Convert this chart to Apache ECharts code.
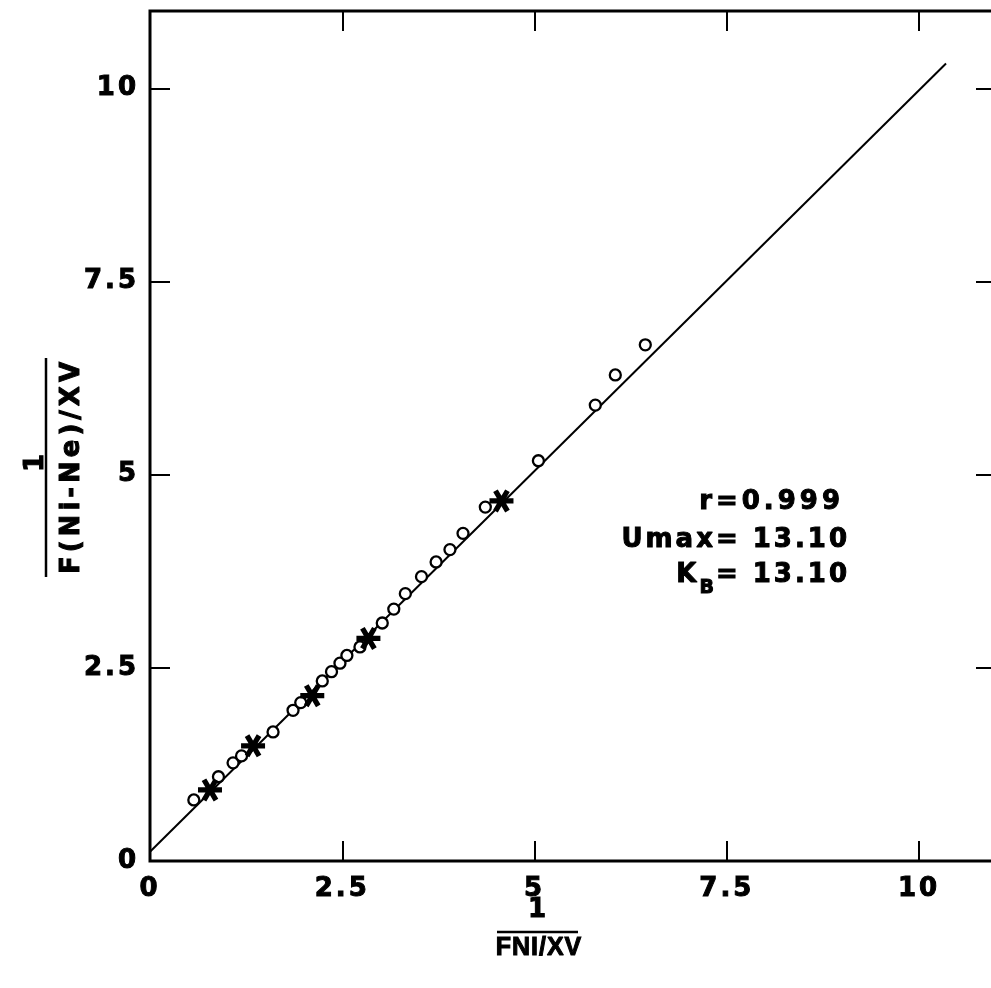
<!DOCTYPE html>
<html>
<head>
<meta charset="utf-8">
<script src="https://cdn.jsdelivr.net/npm/echarts@6/dist/echarts.min.js"></script>
<style>
  html, body { margin: 0; padding: 0; background: #fff; }
  #chart { width: 991px; height: 988px; }
</style>
</head>
<body>
<div id="chart"></div>
<script>
// Open-circle measurements: 1/(FNi/XV) against 1/(F(Ni-Ne)/XV)
const circleX = [0.57, 0.89, 1.08, 1.19, 1.60, 1.86, 1.96, 2.24, 2.36, 2.47, 2.56, 2.73, 3.02, 3.17, 3.32, 3.53, 3.72, 3.90, 4.07, 4.36, 5.05, 5.79, 6.05, 6.44];
const circleY = [0.79, 1.09, 1.27, 1.36, 1.67, 1.95, 2.05, 2.33, 2.45, 2.56, 2.66, 2.77, 3.08, 3.26, 3.46, 3.68, 3.87, 4.03, 4.24, 4.58, 5.18, 5.90, 6.29, 6.68];

// Asterisk measurements
const starX = [0.78, 1.34, 2.11, 2.84, 4.57];
const starY = [0.92, 1.49, 2.14, 2.88, 4.66];

// Fitted regression line end points
const fitX = [0, 10.35];
const fitY = [0.12, 10.32];

// Tick labels
const xTickLabels = ['0', '2.5', '5', '7.5', '10'];
const yTickLabels = ['0', '2.5', '5', '7.5', '10'];

// Fit statistics
const statR = 'r=0.999';
const statUmax = 'Umax= 13.10';
const statKB = '= 13.10';

const zip = (xs, ys) => xs.map((x, i) => [x, ys[i]]);

// Wrap every character in its own rich token so the text gets letter spacing
function spaced(text, style) {
  return text.split('').map(c => '{' + style + '|' + c + '}').join('');
}

function labelFor(v, labels) {
  const hit = labels.find(l => Math.abs(parseFloat(l) - v) < 1e-9);
  return hit === undefined ? '' : spaced(hit, 't');
}

// Heavy lettering: DejaVu Sans Bold with a thin outline of the same colour
const AXIS_BOLD = { fontFamily: 'DejaVu Sans', fontWeight: 'bold', color: '#000', textBorderColor: '#000', textBorderWidth: 1 };
const GFX_BOLD = { fontFamily: 'DejaVu Sans', fontWeight: 'bold', fill: '#000', stroke: '#000', lineWidth: 1 };
const tickRich = { t: Object.assign({}, AXIS_BOLD, { fontSize: 26, padding: [0, 3, 0, 0] }) };

// Six-armed asterisk marker
const STAR = 'path://M-1,0.22L1,0.22L1,-0.22L-1,-0.22Z' +
  'M-0.690,-0.756L0.310,0.976L0.690,0.756L-0.310,-0.976Z' +
  'M0.310,-0.976L-0.690,0.756L-0.310,0.976L0.690,-0.756Z';

const axisBase = {
  type: 'value', min: 0, max: 11, interval: 2.5,
  splitLine: { show: false },
  axisLine: { show: false, onZero: false },
  axisTick: { inside: true, length: 20, lineStyle: { color: '#000', width: 2 } }
};

const chart = echarts.init(document.getElementById('chart'), null, { renderer: 'canvas' });

const option = {
  animation: false,
  backgroundColor: '#fff',
  grid: {
    left: 150, top: 11, right: -5, bottom: 127,
    show: true, borderColor: '#000', borderWidth: 3,
    containLabel: false, outerBoundsMode: 'none'
  },
  xAxis: [
    Object.assign({}, axisBase, {
      position: 'bottom',
      axisLabel: { margin: 15, showMaxLabel: false, formatter: v => labelFor(v, xTickLabels), rich: tickRich }
    }),
    Object.assign({}, axisBase, { position: 'top', axisLabel: { show: false } })
  ],
  yAxis: [
    Object.assign({}, axisBase, {
      position: 'left',
      axisLabel: { margin: 11, showMaxLabel: false, formatter: v => labelFor(v, yTickLabels), rich: tickRich }
    }),
    Object.assign({}, axisBase, { position: 'right', axisLabel: { show: false } })
  ],
  series: [
    {
      type: 'line', data: zip(fitX, fitY), symbol: 'none', z: 2,
      lineStyle: { color: '#000', width: 2 }
    },
    {
      type: 'scatter', data: zip(circleX, circleY), symbol: 'circle', symbolSize: 11, z: 3,
      itemStyle: { color: '#fff', borderColor: '#000', borderWidth: 2.3, opacity: 1 }
    },
    {
      type: 'scatter', data: zip(starX, starY), symbol: STAR, symbolSize: [24, 23], z: 4,
      itemStyle: { color: '#000', opacity: 1 }
    }
  ],
  graphic: [
    // x-axis title as a fraction
    {
      type: 'text', x: 537, y: 910,
      style: Object.assign({}, GFX_BOLD, { text: '1', fontSize: 26, align: 'center', verticalAlign: 'middle' })
    },
    { type: 'line', shape: { x1: 497, y1: 932, x2: 578, y2: 932 }, style: { stroke: '#000', lineWidth: 2.5 } },
    {
      type: 'text', x: 539, y: 948,
      style: {
        text: spaced('FNI/XV', 'a'), align: 'center', verticalAlign: 'middle',
        rich: { a: { fontFamily: 'Liberation Sans', fontWeight: 'bold', fontSize: 25, fill: '#000', stroke: '#000', lineWidth: 1, padding: [0, 1, 0, 0] } }
      }
    },
    // y-axis title as a rotated fraction
    {
      type: 'text', x: 36, y: 463, rotation: Math.PI / 2,
      style: Object.assign({}, GFX_BOLD, { text: '1', fontSize: 26, align: 'center', verticalAlign: 'middle' })
    },
    { type: 'line', shape: { x1: 46, y1: 358, x2: 46, y2: 577 }, style: { stroke: '#000', lineWidth: 2.5 } },
    {
      type: 'text', x: 72, y: 466, rotation: Math.PI / 2,
      style: {
        text: spaced('F(Ni-Ne)/XV', 'a'), align: 'center', verticalAlign: 'middle',
        rich: { a: Object.assign({}, GFX_BOLD, { fontSize: 26, padding: [0, 4, 0, 0] }) }
      }
    },
    // fit statistics
    {
      type: 'text', x: 844, y: 502,
      style: {
        text: spaced(statR, 'a'), align: 'right', verticalAlign: 'middle',
        rich: { a: Object.assign({}, GFX_BOLD, { fontSize: 26, padding: [0, 4, 0, 0] }) }
      }
    },
    {
      type: 'text', x: 850, y: 540,
      style: {
        text: spaced(statUmax, 'a'), align: 'right', verticalAlign: 'middle',
        rich: { a: Object.assign({}, GFX_BOLD, { fontSize: 26, padding: [0, 3, 0, 0] }) }
      }
    },
    {
      type: 'text', x: 850, y: 575,
      style: {
        text: '{k|K}{s|B}' + spaced(statKB, 'k'), align: 'right', verticalAlign: 'middle',
        rich: {
          k: Object.assign({}, GFX_BOLD, { fontSize: 26, lineHeight: 26, verticalAlign: 'top', padding: [0, 3, 0, 0] }),
          s: Object.assign({}, GFX_BOLD, { fontSize: 19, lineHeight: 19, verticalAlign: 'top', padding: [17, 2, 0, 0] })
        }
      }
    }
  ]
};

chart.setOption(option);
</script>
</body>
</html>
